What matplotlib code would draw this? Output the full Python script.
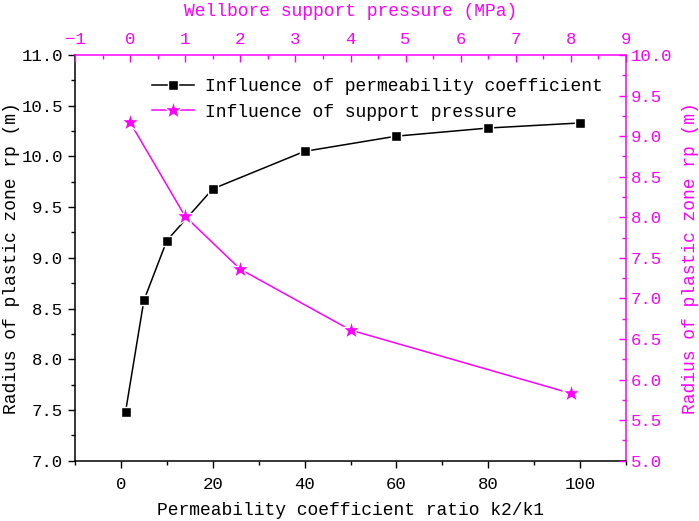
import matplotlib
matplotlib.use("Agg")
import matplotlib.pyplot as plt
from matplotlib.ticker import MultipleLocator, FormatStrFormatter

# Data
perm_ratio = [1, 5, 10, 20, 40, 60, 80, 100]
rp_perm = [7.48, 8.58, 9.17, 9.68, 10.05, 10.20, 10.28, 10.33]
support_pressure = [0, 1, 2, 4, 8]
rp_pressure = [9.17, 8.01, 7.36, 6.61, 5.83]

MAG = "#ff00ff"
plt.rcParams['font.family'] = ['Liberation Mono', 'DejaVu Sans Mono']

fig = plt.figure(figsize=(6.99, 5.21), dpi=100)
rect = [75/699, 1-460.7/521, (626-75)/699, (460.7-55)/521]
ax = fig.add_axes(rect)
ax2 = fig.add_axes(rect, frameon=False)

l1, = ax.plot(perm_ratio, rp_perm, color="black", lw=1.1, marker="s", ms=7.5,
              mfc="black", mec="white", mew=1.0, zorder=3,
              label="Influence of permeability coefficient")
l2, = ax2.plot(support_pressure, rp_pressure, color=MAG, lw=1.1, marker="*", ms=14,
               mfc=MAG, mec="white", mew=1.0, zorder=3,
               label="Influence of support pressure")

ax.set_xlim(-10, 110)
ax.set_ylim(7.0, 11.0)
ax.xaxis.set_major_locator(MultipleLocator(20))
ax.xaxis.set_minor_locator(MultipleLocator(10))
ax.yaxis.set_major_locator(MultipleLocator(0.5))
ax.yaxis.set_minor_locator(MultipleLocator(0.25))
ax.yaxis.set_major_formatter(FormatStrFormatter('%.1f'))
ax.tick_params(which='both', direction='out', labelsize=12.5, width=1.0,
               top=False, right=False)
ax.tick_params(which='major', length=5)
ax.tick_params(which='minor', length=3)
ax.tick_params(axis='x', which='major', pad=6.5)
for s in ['left', 'bottom', 'top', 'right']:
    ax.spines[s].set_linewidth(1.1)
ax.spines['top'].set_color(MAG)
ax.spines['right'].set_color(MAG)
ax.set_xlabel("Permeability coefficient ratio k2/k1", fontsize=13, labelpad=7.5)
ax.set_ylabel("Radius of plastic zone rp (m)", fontsize=13, labelpad=1)

ax2.set_xlim(-1, 9)
ax2.set_ylim(5.0, 10.0)
ax2.xaxis.tick_top()
ax2.yaxis.tick_right()
ax2.xaxis.set_label_position('top')
ax2.yaxis.set_label_position('right')
ax2.xaxis.set_major_locator(MultipleLocator(1))
ax2.xaxis.set_minor_locator(MultipleLocator(0.5))
ax2.yaxis.set_major_locator(MultipleLocator(0.5))
ax2.yaxis.set_minor_locator(MultipleLocator(0.25))
ax2.yaxis.set_major_formatter(FormatStrFormatter('%.1f'))
ax2.tick_params(which='both', direction='in', colors=MAG, labelcolor=MAG,
                labelsize=12.5, width=1.0, bottom=False, left=False)
ax2.tick_params(which='major', length=5)
ax2.tick_params(which='minor', length=3)
ax2.tick_params(axis='x', which='major', pad=5.5)
ax2.set_xlabel("Wellbore support pressure (MPa)", fontsize=13, color=MAG, labelpad=12)
ax2.set_ylabel("Radius of plastic zone rp (m)", fontsize=13, color=MAG, labelpad=7)

leg = ax2.legend([l1, l2], [l1.get_label(), l2.get_label()], loc='upper left',
                 bbox_to_anchor=(0.127, 0.96), frameon=False, fontsize=13,
                 handlelength=2.3, handletextpad=0.6, labelspacing=0.45,
                 borderaxespad=0)

fig.savefig("out.png", dpi=100)
